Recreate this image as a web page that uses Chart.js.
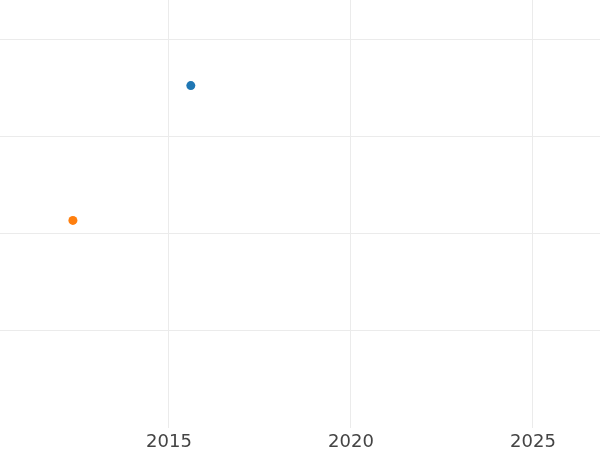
<!DOCTYPE html>
<html>
<head>
<meta charset="utf-8">
<script src="https://cdn.jsdelivr.net/npm/chart.js@4.4.1/dist/chart.umd.min.js"></script>
<style>
  html, body { margin: 0; padding: 0; background: #fff; }
  #wrap { width: 600px; height: 450px; }
</style>
</head>
<body>
<div id="wrap"><canvas id="chart"></canvas></div>
<script>
// values
const seriesNames = ['A', 'B'];
const seriesColors = ['#1f77b4', '#ff7f0e'];
const seriesX = [2015.6, 2012.36];
const seriesY = [35.3, 21.4];
const xTicks = [2015, 2020, 2025];
const yTicks = [10, 20, 30, 40];

document.addEventListener('DOMContentLoaded', () => {
    const ctx = document.getElementById('chart').getContext('2d');

    const datasets = seriesNames.map((name, i) => ({
        label: name,
        data: [{ x: seriesX[i], y: seriesY[i] }],
        backgroundColor: seriesColors[i],
        borderColor: seriesColors[i],
        pointRadius: 4.5,
        pointBorderWidth: 0
    }));

    new Chart(ctx, {
        type: 'scatter',
        data: { datasets },
        options: {
            responsive: true,
            maintainAspectRatio: false,
            animation: false,
            layout: { padding: 0, autoPadding: false },
            plugins: { legend: { display: false }, tooltip: { enabled: false } },
            scales: {
                x: {
                    type: 'linear',
                    min: 2010.357,
                    max: 2026.843,
                    afterBuildTicks: scale => { scale.ticks = xTicks.map(v => ({ value: v })); },
                    afterFit: scale => { scale.height = 22; },
                    border: { display: false },
                    grid: { color: '#ebebeb', drawTicks: false },
                    ticks: {
                        padding: 4,
                        color: '#444',
                        font: { family: 'DejaVu Sans', size: 18 },
                        maxRotation: 0,
                        callback: v => String(v)
                    }
                },
                y: {
                    type: 'linear',
                    min: 0,
                    max: 44.12,
                    afterBuildTicks: scale => { scale.ticks = yTicks.map(v => ({ value: v })); },
                    afterFit: scale => { scale.width = 0; },
                    border: { display: false },
                    grid: { color: '#ebebeb', drawTicks: false },
                    ticks: { display: false }
                }
            }
        }
    });
});
</script>
</body>
</html>
